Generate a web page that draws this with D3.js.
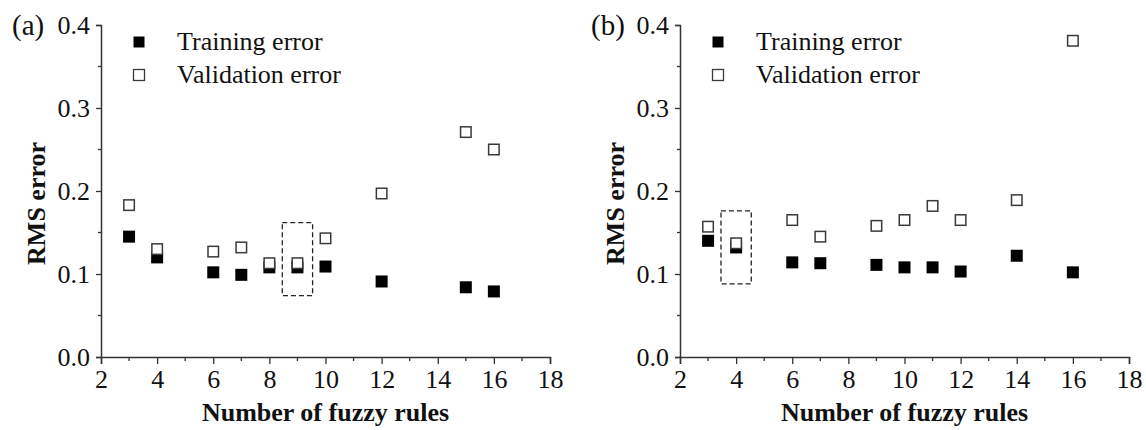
<!DOCTYPE html>
<html>
<head>
<meta charset="utf-8">
<script src="https://cdn.jsdelivr.net/npm/d3@7"></script>
<style>
  body { margin: 0; background: #fff; }
  svg text { font-family: "Liberation Serif", "Times New Roman", serif; fill: #111; }
</style>
</head>
<body>
<svg id="chart" width="1146" height="430"></svg>
<script>
// panel (a)
var rulesA = [3, 4, 6, 7, 8, 9, 10, 12, 15, 16];
var trainA = [0.145, 0.120, 0.102, 0.099, 0.108, 0.108, 0.109, 0.091, 0.084, 0.079];
var validA = [0.183, 0.130, 0.127, 0.132, 0.113, 0.113, 0.143, 0.197, 0.271, 0.250];
var pickA = {rule: 9, low: 0.074, high: 0.162};

// panel (b)
var rulesB = [3, 4, 6, 7, 9, 10, 11, 12, 14, 16];
var trainB = [0.140, 0.132, 0.114, 0.113, 0.111, 0.108, 0.108, 0.103, 0.122, 0.102];
var validB = [0.157, 0.137, 0.165, 0.145, 0.158, 0.165, 0.182, 0.165, 0.189, 0.381];
var pickB = {rule: 4, low: 0.088, high: 0.176};

var xTicks = [2, 4, 6, 8, 10, 12, 14, 16, 18];
var xMinor = [3, 5, 7, 9, 11, 13, 15, 17];
var yTicks = [0.0, 0.1, 0.2, 0.3, 0.4];
var yMinor = [0.05, 0.15, 0.25, 0.35];
var seriesNames = ["Training error", "Validation error"];

var svg = d3.select("#chart");
var FONT = 26;
var AXIS = "#333";

function drawPanel(left, tag, rules, train, valid, pick) {
  var x = d3.scaleLinear().domain([2, 18]).range([left, left + 449]);
  var y = d3.scaleLinear().domain([0, 0.4]).range([357, 25]);
  var g = svg.append("g");

  //minor ticks first, the axes draw the labelled ones
  g.selectAll(".xminor").data(xMinor).enter().append("line")
    .attr("x1", function(d) { return x(d); })
    .attr("x2", function(d) { return x(d); })
    .attr("y1", y(0)).attr("y2", y(0) + 4)
    .style("stroke", AXIS).style("stroke-width", 1.3);
  g.selectAll(".yminor").data(yMinor).enter().append("line")
    .attr("y1", function(d) { return y(d); })
    .attr("y2", function(d) { return y(d); })
    .attr("x1", x(2)).attr("x2", x(2) - 3)
    .style("stroke", AXIS).style("stroke-width", 1.3);

  var xAxis = g.append("g")
    .attr("transform", "translate(0," + y(0) + ")")
    .call(d3.axisBottom(x).tickValues(xTicks).tickSizeOuter(0).tickSize(7).tickPadding(6));
  var yAxis = g.append("g")
    .attr("transform", "translate(" + x(2) + ",0)")
    .call(d3.axisLeft(y).tickValues(yTicks).tickFormat(d3.format(".1f")).tickSizeOuter(0).tickSize(5).tickPadding(6));

  [xAxis, yAxis].forEach(function(a) {
    a.select(".domain").style("stroke", AXIS).style("stroke-width", 1.5);
    a.selectAll(".tick line").style("stroke", AXIS).style("stroke-width", 1.3);
    a.selectAll("text").style("font-size", FONT + "px").style("fill", "#111")
      .style("font-family", '"Liberation Serif", "Times New Roman", serif');
  });
  yAxis.selectAll("text").attr("dy", "0.34em");

  // axis titles
  g.append("text")
    .attr("x", x(10)).attr("y", 421)
    .attr("text-anchor", "middle")
    .style("font-size", FONT + "px").style("font-weight", "bold")
    .text("Number of fuzzy rules");
  g.append("text")
    .attr("transform", "translate(" + (left - 56) + "," + y(0.185) + ") rotate(-90)")
    .attr("text-anchor", "middle")
    .style("font-size", FONT + "px").style("font-weight", "bold")
    .text("RMS error");
  g.append("text")
    .attr("x", left - 89).attr("y", 35)
    .style("font-size", "29px")
    .text(tag);

  // dashed box around the chosen model
  var half = (x(1) - x(0)) * 0.54;
  g.append("rect")
    .attr("x", x(pick.rule) - half)
    .attr("y", y(pick.high))
    .attr("width", half * 2)
    .attr("height", y(pick.low) - y(pick.high))
    .style("fill", "none").style("stroke", "#222")
    .style("stroke-width", 1.3).style("stroke-dasharray", "5,3");

  var S = 12;
  g.selectAll(".train").data(rules).enter().append("rect")
    .attr("x", function(d) { return x(d) - S / 2; })
    .attr("y", function(d, i) { return y(train[i]) - S / 2; })
    .attr("width", S).attr("height", S)
    .style("fill", "#000");
  g.selectAll(".valid").data(rules).enter().append("rect")
    .attr("x", function(d) { return x(d) - S / 2 + 0.75; })
    .attr("y", function(d, i) { return y(valid[i]) - S / 2 + 0.75; })
    .attr("width", S - 1.5).attr("height", S - 1.5)
    .style("fill", "#fff").style("stroke", "#3a3a3a").style("stroke-width", 1.5);

  // legend
  var L = 11;
  var leg = g.selectAll(".leg").data(seriesNames).enter().append("g")
    .attr("transform", function(d, i) { return "translate(" + (left + 38) + "," + (42 + i * 33) + ")"; });
  leg.append("rect")
    .attr("x", -L / 2).attr("y", -L / 2)
    .attr("width", L).attr("height", L)
    .style("fill", function(d, i) { return i == 0 ? "#000" : "#fff"; })
    .style("stroke", function(d, i) { return i == 0 ? "none" : "#3a3a3a"; })
    .style("stroke-width", 1.3);
  leg.append("text")
    .attr("x", 38).attr("y", 8)
    .style("font-size", FONT + "px")
    .text(function(d) { return d; });
}

drawPanel(101, "(a)", rulesA, trainA, validA, pickA);
drawPanel(680, "(b)", rulesB, trainB, validB, pickB);
</script>
</body>
</html>
